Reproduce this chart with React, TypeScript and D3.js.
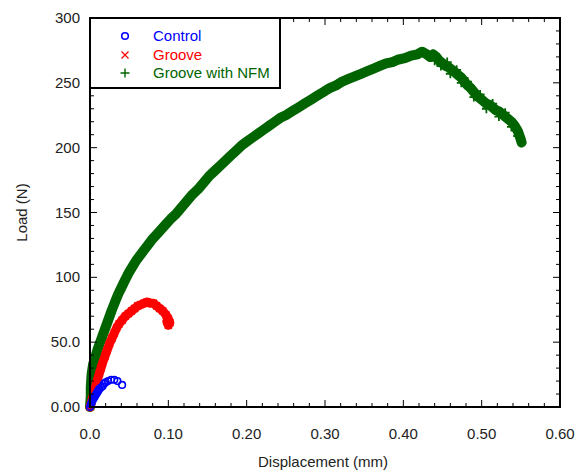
import React from 'react';
import * as d3 from 'd3';

// displacement (mm), load (N)
const controlData: [number, number][] = [
  [0, 0], [0.001, 2], [0.002, 3], [0.003, 5], [0.004, 6], [0.005, 7], [0.006, 8],
  [0.007, 9], [0.008, 10], [0.009, 11], [0.010, 12], [0.011, 13], [0.012, 14],
  [0.014, 15], [0.016, 16], [0.018, 18], [0.020, 19], [0.023, 20], [0.027, 21],
  [0.031, 21], [0.035, 20], [0.041, 17],
];

const grooveData: [number, number][] = [
  [0, 0], [0.002, 4], [0.004, 9], [0.006, 13], [0.008, 18], [0.010, 22], [0.012, 26],
  [0.014, 30], [0.016, 34], [0.019, 39], [0.022, 44], [0.025, 49], [0.028, 53],
  [0.031, 57], [0.034, 61], [0.037, 64], [0.041, 67], [0.045, 70], [0.049, 72],
  [0.053, 74], [0.057, 76], [0.061, 78], [0.065, 79], [0.069, 80], [0.073, 81],
  [0.077, 80], [0.081, 80], [0.085, 78], [0.089, 76], [0.093, 74], [0.097, 71],
  [0.100, 68], [0.102, 65], [0.100, 63], [0.098, 66],
];

const nfmData: [number, number][] = [
  [0, 0], [0.001, 8], [0.001, 15], [0.002, 25], [0.004, 33], [0.007, 39], [0.010, 45],
  [0.013, 50], [0.016, 55], [0.019, 60], [0.022, 65], [0.025, 70], [0.028, 75],
  [0.032, 81], [0.036, 87], [0.040, 92], [0.044, 97], [0.049, 103], [0.054, 108],
  [0.059, 113], [0.064, 117], [0.069, 121], [0.074, 125], [0.079, 129], [0.085, 133],
  [0.091, 137], [0.097, 141], [0.103, 145], [0.110, 149], [0.117, 154], [0.124, 159],
  [0.131, 164], [0.138, 168], [0.145, 173], [0.152, 178], [0.159, 182], [0.166, 186],
  [0.173, 190], [0.180, 194], [0.187, 198], [0.194, 202], [0.201, 205], [0.208, 208],
  [0.215, 211], [0.222, 214], [0.229, 217], [0.236, 220], [0.243, 223], [0.250, 225],
  [0.258, 228], [0.266, 231], [0.274, 234], [0.282, 237], [0.290, 240], [0.298, 243],
  [0.306, 246], [0.314, 248], [0.322, 251], [0.330, 253], [0.338, 255], [0.346, 257],
  [0.354, 259], [0.362, 261], [0.370, 263], [0.378, 265], [0.386, 266], [0.394, 268],
  [0.402, 269], [0.410, 271], [0.418, 272], [0.424, 274], [0.430, 272], [0.434, 270],
  [0.438, 272], [0.442, 270], [0.446, 267], [0.450, 265], [0.454, 263], [0.458, 262],
  [0.462, 260], [0.466, 258], [0.470, 256], [0.474, 254], [0.478, 251], [0.482, 248],
  [0.486, 246], [0.490, 243], [0.494, 240], [0.498, 238], [0.502, 236], [0.506, 234],
  [0.510, 233], [0.514, 231], [0.518, 229], [0.522, 228], [0.526, 226], [0.530, 224],
  [0.534, 222], [0.538, 220], [0.542, 217], [0.546, 213], [0.549, 208], [0.551, 204],
];

// scattered points hugging the noisy falling branch
const nfmNoise: [number, number][] = [
  [0.440, 267], [0.448, 263], [0.456, 266], [0.460, 257], [0.468, 260], [0.474, 250],
  [0.482, 251], [0.490, 239], [0.498, 241], [0.506, 230], [0.514, 234], [0.522, 224],
  [0.530, 227], [0.538, 216], [0.546, 209], [0.550, 207],
];

const legendNames = ['Control', 'Groove', 'Groove with NFM'];
const xTickValues = [0, 0.1, 0.2, 0.3, 0.4, 0.5, 0.6];
const xTickLabels = ['0.0', '0.10', '0.20', '0.30', '0.40', '0.50', '0.60'];
const yTickValues = [0, 50, 100, 150, 200, 250, 300];
const yTickLabels = ['0.00', '50.0', '100', '150', '200', '250', '300'];

const BLUE = '#0000ff';
const RED = '#ff0000';
const GREEN = '#006400';
const FONT = 'Liberation Sans, Arial, sans-serif';

const plus = 'M-4.5,0H4.5M0,-4.5V4.5';
const cross = 'M-3.5,-3.5L3.5,3.5M-3.5,3.5L3.5,-3.5';

export default function App() {
  const width = 576, height = 470;
  const left = 90, right = 560, top = 18, bottom = 407;

  const x = d3.scaleLinear().domain([0, 0.6]).range([left, right]);
  const y = d3.scaleLinear().domain([0, 300]).range([bottom, top]);

  const line = d3.line<[number, number]>().x(d => x(d[0])).y(d => y(d[1]));

  const xMinor = d3.range(0, 0.6001, 0.02);
  const yMinor = d3.range(0, 300.001, 10);
  const isMajorX = (v: number) => Math.abs(v * 10 - Math.round(v * 10)) < 1e-6;
  const isMajorY = (v: number) => Math.round(v) % 50 === 0;

  return (
    <svg width={width} height={height} style={{ position: 'absolute', left: 0, top: 0, background: '#fff' }}>
      {/* green band */}
      <path d={line(nfmData) || ''} fill="none" stroke={GREEN} strokeWidth={10}
        strokeLinejoin="round" strokeLinecap="round" />
      <g stroke={GREEN} strokeWidth={1.8}>
        {nfmData.concat(nfmNoise).map((d, i) => (
          <path key={i} d={plus} transform={`translate(${x(d[0])},${y(d[1])})`} />
        ))}
      </g>

      {/* red band */}
      <path d={line(grooveData) || ''} fill="none" stroke={RED} strokeWidth={9}
        strokeLinejoin="round" strokeLinecap="round" />
      <g stroke={RED} strokeWidth={1.5}>
        {grooveData.map((d, i) => (
          <path key={i} d={cross} transform={`translate(${x(d[0])},${y(d[1])})`} />
        ))}
      </g>

      {/* blue circles */}
      <g stroke={BLUE} strokeWidth={1.6} fill="none">
        {controlData.map((d, i) => (
          <circle key={i} cx={x(d[0])} cy={y(d[1])} r={3.3} />
        ))}
      </g>

      {/* ticks on all four sides, pointing inward */}
      <g stroke="#000" strokeWidth={1}>
        {xMinor.map((v, i) => {
          const len = isMajorX(v) ? 7 : 4;
          return (
            <g key={i}>
              <line x1={x(v)} x2={x(v)} y1={bottom} y2={bottom - len} />
              <line x1={x(v)} x2={x(v)} y1={top} y2={top + len} />
            </g>
          );
        })}
        {yMinor.map((v, i) => {
          const len = isMajorY(v) ? 7 : 4;
          return (
            <g key={i}>
              <line x1={left} x2={left + len} y1={y(v)} y2={y(v)} />
              <line x1={right} x2={right - len} y1={y(v)} y2={y(v)} />
            </g>
          );
        })}
      </g>

      <rect x={left} y={top} width={right - left} height={bottom - top}
        fill="none" stroke="#000" strokeWidth={2} />

      {/* tick labels */}
      <g fontFamily={FONT} fontSize={15} fill="#222">
        {xTickValues.map((v, i) => (
          <text key={i} x={x(v)} y={439} textAnchor="middle">{xTickLabels[i]}</text>
        ))}
        {yTickValues.map((v, i) => (
          <text key={i} x={80} y={y(v) + 5} textAnchor="end">{yTickLabels[i]}</text>
        ))}
      </g>

      <text x={(left + right) / 2 - 2} y={467} textAnchor="middle" fontFamily={FONT}
        fontSize={15} fill="#222">Displacement (mm)</text>
      <text transform={`translate(27,${(top + bottom) / 2}) rotate(-90)`} textAnchor="middle"
        fontFamily={FONT} fontSize={15} fill="#222">Load (N)</text>

      {/* legend */}
      <rect x={left} y={top} width={190} height={70} fill="#fff" stroke="#000" strokeWidth={2} />
      <g fontFamily={FONT} fontSize={15}>
        <circle cx={125} cy={36} r={3.3} fill="none" stroke={BLUE} strokeWidth={1.6} />
        <text x={153} y={41} fill={BLUE}>{legendNames[0]}</text>
        <path d={cross} transform="translate(125,55)" stroke={RED} strokeWidth={1.2} />
        <text x={153} y={60} fill={RED}>{legendNames[1]}</text>
        <path d={plus} transform="translate(125,73)" stroke={GREEN} strokeWidth={1.4} />
        <text x={153} y={78} fill={GREEN}>{legendNames[2]}</text>
      </g>
    </svg>
  );
}
